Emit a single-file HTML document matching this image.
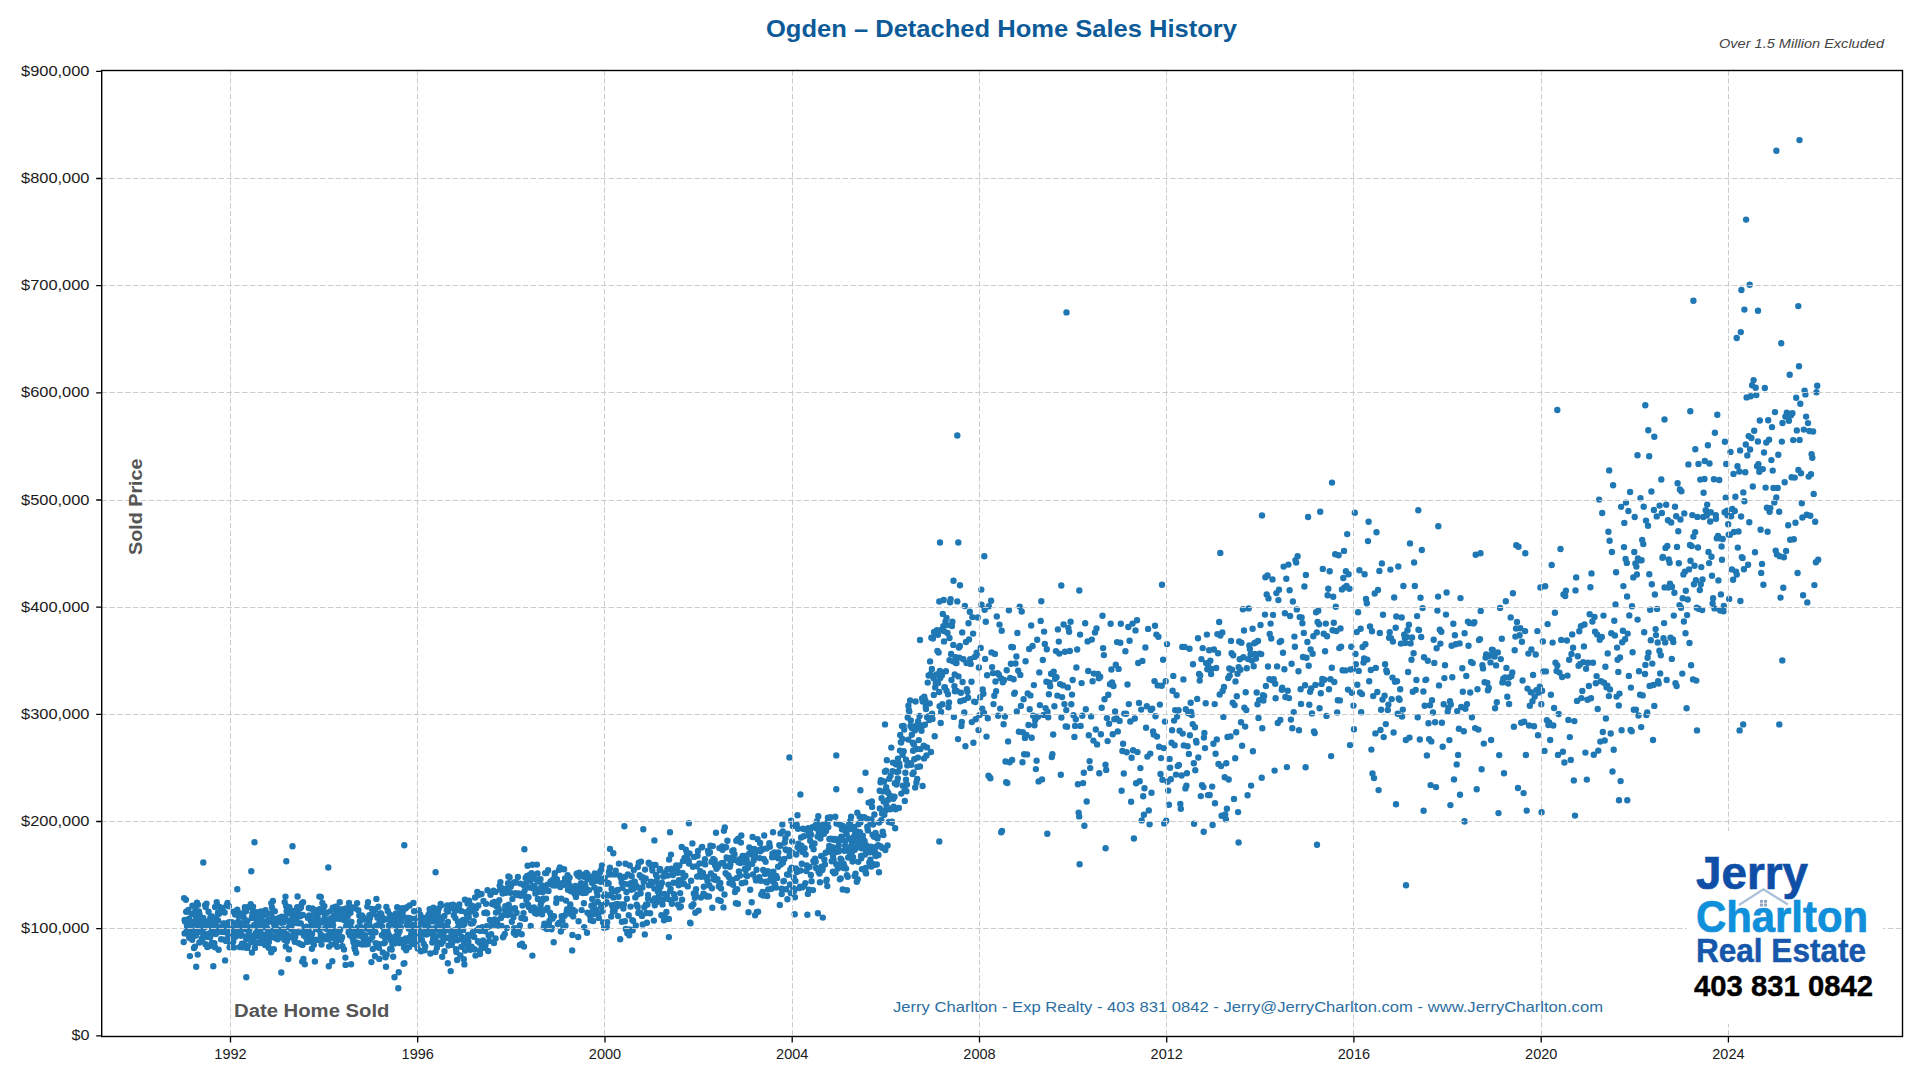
<!DOCTYPE html>
<html><head><meta charset="utf-8"><title>Ogden – Detached Home Sales History</title><style>
*{margin:0;padding:0}
html,body{width:1920px;height:1080px;background:#fff;overflow:hidden}
svg{display:block}
text{font-family:"Liberation Sans",sans-serif}
.tk{font-size:14.5px;fill:#1a1a1a}
.yt{font-size:14.5px;fill:#1a1a1a}
.title{font-size:24px;font-weight:bold;fill:#0c5b98}
.note{font-size:12.5px;font-style:italic;fill:#444}
.axl{font-size:18px;font-weight:bold;fill:#555}
.foot{font-size:15.2px;fill:#2d6fa3}
.lg1{font-size:45.5px;font-weight:bold;fill:#0f4ea6;stroke:#0f4ea6;stroke-width:0.7px}
.lg2{font-size:44px;font-weight:bold;fill:#108fda;stroke:#108fda;stroke-width:0.7px}
.lg3{font-size:33px;font-weight:bold;fill:#1656ab;stroke:#1656ab;stroke-width:0.5px}
.lg4{font-size:29px;font-weight:bold;fill:#000;stroke:#000;stroke-width:0.4px}
</style></head>
<body><svg width="1920" height="1080" viewBox="0 0 1920 1080">
<path d="M1348.0 689.6h0M1070.6 621.8h0M860.1 844.1h0M409.6 905.5h0M930.1 661.4h0M1435.1 722.3h0M1731.2 516.3h0M583.9 903.3h0M297.7 911.8h0M935.8 683.2h0M1624.0 547.1h0M1589.7 614.2h0M460.7 939.1h0M1194.1 823.7h0M909.3 711.4h0M536.9 864.6h0M316.2 921.8h0M792.8 826.1h0M1391.0 638.1h0M616.2 904.2h0M1012.9 647.3h0M430.4 953.5h0M853.9 840.0h0M820.9 828.3h0M489.3 941.0h0M1326.5 715.9h0M225.3 932.0h0M697.1 876.6h0M216.3 917.5h0M1187.6 746.3h0M381.9 935.3h0M277.1 931.8h0M1797.6 573.0h0M634.3 882.0h0M469.1 900.8h0M1702.2 610.1h0M716.4 868.8h0M1348.6 574.2h0M1183.4 679.4h0M1117.1 642.1h0M1135.5 630.4h0M1504.0 773.3h0M1376.5 532.3h0M818.8 833.5h0M250.9 906.0h0M1641.2 727.1h0M1357.3 684.8h0M601.5 869.3h0M865.0 854.6h0M870.4 859.7h0M271.2 952.3h0M1434.3 662.9h0M646.9 922.8h0M701.7 847.4h0M1586.8 779.6h0M1046.4 681.7h0M592.1 882.8h0M825.7 852.7h0M254.2 925.0h0M961.8 722.0h0M1569.2 659.7h0M260.3 932.0h0M561.9 883.3h0M496.9 925.7h0M1529.8 705.8h0M884.9 771.8h0M1736.7 338.0h0M661.0 884.5h0M346.1 926.2h0M1764.0 452.5h0M1661.9 513.0h0M1510.7 617.4h0M941.1 712.0h0M264.2 925.1h0M1781.2 343.2h0M1205.7 703.3h0M1283.6 566.6h0M827.5 822.5h0M444.5 951.3h0M1178.6 710.2h0M1186.4 785.7h0M1453.3 623.8h0M1591.0 698.3h0M359.3 915.5h0M449.9 938.0h0M1261.7 777.8h0M927.1 717.2h0M1396.3 616.5h0M1162.0 584.8h0M1705.7 510.2h0M215.1 907.0h0M1366.8 603.2h0M573.2 916.4h0M1259.2 700.1h0M286.9 941.2h0M740.0 875.6h0M1335.2 554.3h0M907.0 784.6h0M225.8 931.7h0M517.2 932.9h0M1531.4 649.5h0M906.0 759.7h0M1095.0 632.5h0M1389.7 632.3h0M1383.7 737.1h0M429.9 930.3h0M1137.5 752.1h0M1031.2 625.5h0M968.1 697.8h0M494.8 919.5h0M1163.8 748.1h0M1533.1 675.0h0M1722.0 559.7h0M1479.0 640.1h0M1213.9 649.5h0M1676.2 516.3h0M1126.7 752.2h0M878.2 845.2h0M924.9 724.7h0M439.4 919.5h0M1197.2 698.9h0M934.7 736.2h0M966.8 689.3h0M758.1 911.8h0M1339.3 648.1h0M315.5 940.0h0M1527.5 688.6h0M860.0 832.3h0M1610.0 689.4h0M414.1 911.3h0M531.2 910.3h0M845.4 841.0h0M198.0 904.8h0M552.3 880.2h0M690.1 922.7h0M1269.4 679.2h0M895.2 828.2h0M264.7 926.1h0M936.6 674.5h0M367.3 906.6h0M230.0 942.4h0M1275.2 683.7h0M545.1 873.1h0M349.7 909.7h0M1308.1 517.0h0M437.2 926.8h0M1053.7 671.8h0M242.4 926.8h0M204.1 936.8h0M580.0 890.2h0M1621.1 506.9h0M924.3 696.7h0M1538.0 735.2h0M940.2 678.1h0M276.4 937.0h0M1661.3 479.5h0M713.7 879.2h0M1543.5 671.4h0M581.6 910.1h0M560.8 931.5h0M1225.9 819.2h0M195.8 935.5h0M886.8 760.2h0M1607.7 653.4h0M878.5 854.9h0M404.0 947.4h0M466.9 914.6h0M950.1 602.2h0M1341.9 589.4h0M1472.7 663.1h0M1735.4 496.8h0M1104.5 699.2h0M206.9 923.9h0M1584.5 624.5h0M457.4 940.2h0M343.2 909.1h0M1141.2 709.6h0M517.6 895.1h0M523.5 913.1h0M896.8 771.9h0M727.4 840.7h0M858.3 861.7h0M668.9 918.9h0M249.3 929.4h0M1541.6 812.3h0M798.8 847.9h0M370.8 930.5h0M588.0 876.1h0M388.9 925.5h0M459.6 921.7h0M911.9 728.1h0M1645.4 664.9h0M1395.0 681.8h0M1804.6 390.7h0M713.3 859.0h0M949.0 702.5h0M1390.4 569.6h0M867.9 830.4h0M358.1 931.4h0M678.0 904.7h0M1246.3 710.1h0M495.6 938.5h0M932.1 713.8h0M1327.1 636.2h0M1307.4 642.0h0M1632.6 652.2h0M867.6 828.8h0M1038.6 781.4h0M939.3 841.5h0M1638.5 715.5h0M1419.0 630.0h0M1203.9 737.6h0M250.3 906.1h0M915.6 701.5h0M1627.7 633.6h0M1427.8 660.8h0M323.3 908.2h0M1068.4 627.9h0M1550.2 740.0h0M1456.7 764.4h0M301.8 903.6h0M1173.3 675.9h0M337.2 912.7h0M313.9 944.8h0M719.7 882.9h0M842.7 889.5h0M1110.0 684.2h0M326.3 913.2h0M1653.9 510.0h0M1254.7 654.0h0M881.6 798.2h0M1285.4 697.0h0M570.6 909.2h0M916.4 782.4h0M1494.6 656.5h0M689.5 853.5h0M939.6 706.2h0M926.0 709.1h0M186.2 911.8h0M1666.7 680.0h0M1690.3 411.3h0M622.5 887.8h0M826.3 881.0h0M598.7 876.8h0M643.3 829.3h0M722.1 846.4h0M1466.3 676.0h0M466.3 920.3h0M1813.7 493.9h0M561.6 916.3h0M886.0 770.8h0M846.9 875.1h0M224.6 912.5h0M608.1 895.6h0M730.8 858.6h0M508.1 883.2h0M519.9 944.9h0M1208.4 666.3h0M604.1 927.8h0M263.7 936.8h0M223.7 925.2h0M511.2 885.1h0M1496.1 665.4h0M227.4 930.1h0M555.2 885.6h0M421.9 940.1h0M1709.1 563.1h0M1693.4 536.6h0M1665.2 642.4h0M1625.6 558.9h0M254.5 842.2h0M1524.2 721.7h0M1085.2 623.2h0M851.7 840.8h0M668.9 937.1h0M1381.1 709.7h0M854.8 849.7h0M1000.8 678.3h0M824.0 833.8h0M846.1 868.6h0M1600.9 681.2h0M1111.4 669.5h0M504.2 890.6h0M506.2 908.7h0M1301.0 703.9h0M1796.2 397.7h0M410.7 918.4h0M418.4 917.0h0M794.9 897.3h0M1387.0 672.2h0M943.7 600.0h0M674.3 869.5h0M842.0 829.3h0M1421.2 637.0h0M633.1 920.7h0M958.0 739.1h0M720.7 900.9h0M1521.2 722.7h0M852.1 851.4h0M1732.3 508.9h0M1536.4 690.1h0M637.8 867.0h0M331.3 918.3h0M632.3 920.1h0M677.2 869.5h0M637.7 906.7h0M244.7 944.7h0M1063.6 624.5h0M1682.7 598.3h0M416.1 936.0h0M1337.8 700.3h0M753.0 874.5h0M685.8 849.6h0M419.6 939.6h0M987.1 675.3h0M884.3 814.8h0M462.7 924.7h0M1612.5 771.5h0M1191.8 715.0h0M1683.4 574.4h0M1249.9 649.0h0M1561.2 639.9h0M721.1 888.6h0M1219.7 694.5h0M362.3 935.1h0M1124.3 713.6h0M826.7 879.7h0M205.7 907.0h0M1099.3 773.3h0M501.9 888.2h0M1500.8 659.1h0M1108.3 694.7h0M780.5 833.4h0M345.6 964.9h0M1021.7 611.5h0M486.1 912.4h0M208.0 923.0h0M463.8 959.2h0M312.2 933.6h0M534.0 907.4h0M551.1 916.3h0M1758.0 310.8h0M1635.9 709.6h0M1690.0 544.9h0M862.1 848.4h0M738.9 871.5h0M314.8 940.0h0M1609.6 540.8h0M1646.4 715.0h0M1341.1 646.8h0M1095.8 729.5h0M1195.3 770.3h0M334.2 930.6h0M255.6 933.3h0M928.9 716.2h0M1679.5 605.1h0M1153.1 731.5h0M1709.5 463.5h0M1620.6 781.1h0M1176.6 695.3h0M993.0 673.1h0M433.4 907.8h0M488.7 935.5h0M1668.0 520.3h0M191.1 925.5h0M1222.3 632.4h0M1061.4 717.5h0M659.6 870.2h0M784.7 842.5h0M631.2 889.7h0M718.3 900.0h0M1355.9 664.2h0M717.8 867.0h0M735.4 890.8h0M728.9 877.1h0M232.3 931.6h0M638.8 862.7h0M347.8 926.7h0M863.6 817.2h0M330.5 919.0h0M721.5 863.2h0M1572.2 634.4h0M606.1 883.7h0M951.5 680.0h0M1676.6 686.0h0M1411.5 659.8h0M957.3 601.4h0M871.5 819.5h0M788.1 874.8h0M1030.4 695.4h0M1754.2 430.8h0M771.0 880.2h0M828.3 827.1h0M1687.7 599.5h0M847.0 890.3h0M398.6 917.3h0M691.5 905.9h0M197.0 902.8h0M284.2 935.3h0M309.9 941.2h0M604.7 878.1h0M1358.1 612.3h0M1683.9 621.5h0M1781.8 441.6h0M1616.1 572.3h0M847.7 876.8h0M1053.2 734.5h0M834.5 839.9h0M693.8 893.4h0M1394.2 597.5h0M349.9 935.2h0M1798.3 306.1h0M335.1 932.0h0M1064.4 704.1h0M1176.0 774.6h0M1626.8 562.9h0M344.0 949.4h0M1331.8 667.7h0M701.2 876.7h0M1066.5 312.4h0M859.0 847.4h0M1214.7 704.1h0M1301.6 617.5h0M928.6 675.5h0M433.1 938.7h0M1178.9 764.9h0M413.4 902.9h0M804.2 885.8h0M1703.3 517.0h0M496.5 906.2h0M1252.9 751.2h0M1375.4 733.4h0M410.4 924.1h0M535.4 893.4h0M646.1 904.4h0M897.8 778.5h0M639.7 875.3h0M731.8 857.5h0M1166.2 820.7h0M1314.0 731.4h0M947.1 625.1h0M413.9 931.8h0M240.7 923.3h0M807.9 893.9h0M793.2 888.1h0M725.6 873.1h0M425.2 946.5h0M808.7 835.4h0M303.4 958.9h0M603.1 922.5h0M609.9 867.7h0M187.7 927.4h0M376.2 925.8h0M355.5 944.8h0M431.9 912.0h0M1675.5 683.3h0M854.6 876.1h0M444.4 915.9h0M559.6 883.6h0M1037.2 639.8h0M298.7 943.1h0M505.9 892.7h0M978.9 667.5h0M467.6 903.5h0M265.7 944.7h0M1739.6 730.4h0M1238.6 842.5h0M733.1 884.8h0M1217.4 634.1h0M1322.3 679.0h0M436.1 928.0h0M448.8 930.2h0M1637.6 619.6h0M1726.9 510.7h0M1279.7 642.1h0M553.7 942.2h0M411.8 938.9h0M1134.8 718.5h0M837.1 839.9h0M1240.4 669.8h0M562.9 883.1h0M1498.5 813.1h0M273.8 949.2h0M1079.2 816.4h0M272.0 907.4h0M380.5 913.2h0M927.0 747.4h0M699.9 876.1h0M296.9 923.0h0M1172.6 690.7h0M849.5 852.2h0M1663.5 638.2h0M417.3 930.6h0M527.6 865.8h0M1573.8 780.4h0M1702.5 579.5h0M1775.7 550.6h0M288.4 920.9h0M1059.3 653.6h0M1567.5 675.6h0M1575.0 815.6h0M1758.4 464.2h0M1025.6 661.2h0M342.1 937.3h0M834.9 838.9h0M888.3 792.9h0M232.7 928.1h0M782.9 862.8h0M890.6 775.6h0M1378.0 589.9h0M1537.4 631.1h0M1196.5 742.6h0M203.3 862.5h0M1007.3 783.0h0M920.0 640.0h0M582.8 893.0h0M347.0 924.5h0M1782.5 423.0h0M792.2 841.5h0M349.0 902.9h0M965.4 746.3h0M726.9 874.6h0M316.4 910.1h0M1505.8 601.2h0M873.1 824.6h0M198.2 919.5h0M1047.5 711.7h0M883.4 835.1h0M452.5 941.8h0M943.8 631.1h0M290.8 920.1h0M822.8 917.6h0M252.0 952.5h0M237.9 922.0h0M1331.1 756.1h0M368.6 924.2h0M221.2 927.3h0M1211.5 669.0h0M605.7 903.7h0M1236.2 732.2h0M932.5 718.9h0M1506.4 667.9h0M1223.4 716.9h0M1093.9 673.6h0M1673.8 615.6h0M836.3 789.3h0M1358.7 670.9h0M188.7 930.6h0M1623.4 586.1h0M819.4 825.5h0M1811.6 454.3h0M900.8 742.1h0M281.8 916.7h0M1247.6 795.3h0M522.5 905.6h0M432.7 921.4h0M538.1 881.3h0M234.7 912.7h0M1818.2 559.8h0M1672.9 639.5h0M1225.2 814.5h0M317.3 921.3h0M471.0 923.5h0M1051.1 673.8h0M996.8 616.4h0M879.1 822.6h0M557.8 924.1h0M434.0 930.5h0M1444.4 678.1h0M1317.0 844.8h0M707.2 877.1h0M509.1 913.4h0M913.9 744.5h0M1668.7 559.5h0M769.3 843.2h0M1774.3 502.4h0M1368.6 521.7h0M1642.2 539.9h0M213.6 933.5h0M841.5 859.6h0M900.0 750.6h0M1034.5 725.2h0M974.2 701.6h0M1015.5 663.5h0M243.9 923.6h0M428.9 914.2h0M455.4 938.0h0M648.1 895.0h0M332.3 961.3h0M508.4 876.5h0M639.3 888.0h0M1131.1 801.7h0M1046.8 649.3h0M892.9 762.6h0M240.3 931.4h0M373.3 912.8h0M305.4 936.7h0M1100.9 734.3h0M812.5 827.2h0M1651.4 491.5h0M507.5 915.1h0M696.0 889.3h0M1487.3 683.0h0M1084.4 825.8h0M617.8 889.9h0M378.4 906.7h0M626.4 891.9h0M1806.8 514.8h0M435.5 952.0h0M236.1 914.6h0M1177.1 716.6h0M494.4 902.0h0M447.4 927.1h0M1481.6 769.2h0M381.3 914.0h0M211.6 916.1h0M770.8 875.8h0M558.2 884.1h0M290.5 936.5h0M797.5 815.3h0M1107.6 741.1h0M476.6 907.0h0M480.5 930.9h0M308.0 917.9h0M1145.4 647.5h0M1061.3 585.5h0M567.6 875.3h0M318.6 923.6h0M1539.8 686.7h0M1557.3 665.5h0M896.1 764.4h0M1083.1 783.1h0M573.4 888.8h0M260.2 943.1h0M707.5 880.9h0M640.6 893.4h0M1256.7 692.5h0M1640.5 498.3h0M1338.6 555.2h0M329.1 946.6h0M1750.1 449.5h0M203.2 917.9h0M1805.4 394.4h0M909.7 763.2h0M1300.6 689.2h0M492.1 904.1h0M1198.0 638.2h0M482.3 927.1h0M794.2 890.9h0M418.7 910.2h0M1239.7 659.3h0M479.5 942.7h0M1765.6 487.6h0M645.7 878.4h0M1513.9 726.7h0M1525.9 755.0h0M687.2 857.2h0M1377.3 692.0h0M309.6 932.3h0M285.5 896.6h0M387.5 930.8h0M577.4 888.4h0M775.1 884.4h0M1773.5 487.9h0M849.2 824.0h0M1136.1 783.3h0M514.1 928.3h0M606.8 927.1h0M1143.2 796.3h0M1557.3 410.0h0M585.0 883.8h0M1277.8 723.0h0M1497.8 652.4h0M461.4 946.7h0M1004.1 680.0h0M1454.0 779.4h0M1746.6 397.4h0M1792.4 413.2h0M1071.3 704.3h0M1639.7 560.4h0M384.1 932.0h0M1468.5 645.8h0M1473.4 623.4h0M235.4 928.7h0M1418.5 629.7h0M1627.1 596.5h0M1200.2 675.4h0M917.2 779.0h0M1347.2 534.1h0M559.9 867.5h0M431.7 916.5h0M292.5 937.7h0M933.8 694.9h0M613.4 897.4h0M1458.1 754.9h0M1356.7 632.1h0M666.4 912.0h0M477.1 930.1h0M305.7 933.3h0M891.9 821.8h0M473.7 921.3h0M1330.5 679.2h0M1248.7 608.4h0M1695.3 449.2h0M1807.3 602.4h0M1005.5 761.5h0M687.8 886.4h0M1008.1 741.4h0M310.9 921.1h0M561.3 898.6h0M869.8 852.3h0M874.4 814.4h0M500.2 889.5h0M1681.0 607.8h0M347.2 922.4h0M1133.1 750.2h0M545.5 886.3h0M764.8 873.9h0M1496.8 702.2h0M306.6 929.3h0M491.0 925.8h0M1476.7 789.3h0M1091.1 716.4h0M799.6 849.3h0M368.4 939.8h0M1234.0 798.9h0M247.3 921.1h0M260.8 940.6h0M1808.0 423.1h0M459.3 904.5h0M528.0 904.8h0M322.0 922.3h0M1704.5 479.0h0M1035.2 720.0h0M365.0 935.3h0M1022.5 762.2h0M579.5 876.8h0M1433.7 639.8h0M1501.8 638.7h0M1221.1 766.1h0M514.6 882.3h0M227.5 902.9h0M1611.9 552.0h0M578.2 937.0h0M723.9 830.7h0M578.6 921.2h0M1322.8 568.9h0M1547.6 624.1h0M939.2 692.0h0M1776.9 554.4h0M537.5 873.4h0M480.1 950.8h0M277.4 932.8h0M428.2 922.1h0M304.8 964.2h0M1150.3 753.6h0M526.0 883.4h0M261.1 911.5h0M268.9 942.1h0M1597.7 709.0h0M1066.3 710.1h0M1137.0 620.2h0M1379.8 632.9h0M509.6 877.3h0M1743.3 492.4h0M1402.1 716.5h0M908.9 710.2h0M1329.0 689.2h0M211.8 943.0h0M830.2 851.7h0M548.5 891.0h0M894.1 808.7h0M425.8 934.5h0M665.1 872.5h0M1273.7 679.3h0M1419.8 739.5h0M222.8 929.1h0M908.3 739.6h0M278.3 933.7h0M665.4 917.8h0M208.6 911.7h0M818.4 871.5h0M645.1 869.6h0M1366.0 598.9h0M1525.3 553.3h0M597.8 902.0h0M800.4 794.5h0M367.8 944.1h0M1294.4 636.6h0M1560.5 549.0h0M500.9 917.9h0M1077.9 784.3h0M608.6 883.5h0M589.0 890.1h0M268.1 922.1h0M590.6 920.3h0M426.7 934.4h0M897.9 758.6h0M790.3 869.8h0M615.5 891.1h0M402.6 917.3h0M463.2 929.9h0M292.5 846.3h0M307.2 934.1h0M975.3 702.0h0M326.7 922.3h0M985.1 658.9h0M353.8 933.1h0M462.2 924.1h0M394.6 922.7h0M1465.4 708.8h0M977.1 655.0h0M492.6 904.3h0M1777.7 487.9h0M1778.3 454.8h0M1400.9 643.6h0M732.6 879.7h0M1696.3 680.6h0M582.2 884.6h0M235.1 914.5h0M1304.4 586.5h0M1406.0 885.2h0M1664.6 587.4h0M1272.5 579.4h0M317.1 915.5h0M964.0 700.1h0M1056.5 677.2h0M348.3 914.3h0M206.5 903.6h0M726.1 847.3h0M453.1 904.8h0M391.8 924.2h0M298.6 932.2h0M256.4 936.1h0M1785.4 416.6h0M1329.7 571.3h0M228.9 906.3h0M772.4 853.7h0M1637.5 455.3h0M276.0 923.1h0M931.9 668.9h0M1801.8 503.3h0M1643.7 506.7h0M427.4 921.6h0M234.3 928.7h0M1353.5 705.6h0M1716.8 538.3h0M902.4 739.0h0M741.3 835.5h0M184.1 898.1h0M1126.1 713.8h0M357.3 942.6h0M766.5 848.5h0M1812.3 457.8h0M319.1 929.9h0M1170.1 767.7h0M392.5 916.3h0M683.6 877.8h0M446.7 910.1h0M1618.3 671.9h0M1756.3 395.1h0M1235.5 681.4h0M525.6 877.9h0M712.3 907.8h0M785.4 838.2h0M590.2 916.0h0M730.4 864.3h0M275.9 927.7h0M1762.0 563.9h0M1242.1 745.8h0M811.1 834.7h0M1175.2 710.1h0M246.7 936.4h0M221.4 927.8h0M528.5 897.2h0M1121.6 790.8h0M541.7 885.3h0M460.4 955.4h0M644.3 907.2h0M1382.5 699.6h0M1451.6 645.8h0M838.7 845.3h0M368.0 902.3h0M1796.8 430.4h0M1103.9 655.1h0M718.8 886.4h0M1291.6 663.8h0M662.8 900.0h0M323.7 936.1h0M201.7 938.8h0M569.3 908.3h0M1260.5 625.0h0M866.5 852.0h0M1630.9 687.6h0M1706.7 515.5h0M950.6 599.3h0M433.7 916.5h0M519.8 925.4h0M585.5 886.4h0M917.9 757.6h0M688.7 861.0h0M185.1 921.4h0M344.5 920.2h0M1526.7 810.6h0M904.2 729.6h0M570.3 904.4h0M1008.9 610.3h0M544.7 910.1h0M576.0 896.9h0M193.3 921.6h0M435.6 872.2h0M551.9 928.0h0M1710.8 512.3h0M813.0 890.1h0M801.5 845.6h0M490.5 894.7h0M1436.6 648.2h0M1448.4 707.9h0M229.2 922.1h0M518.2 929.7h0M1693.9 584.3h0M767.7 871.1h0M868.1 849.1h0M1463.8 731.2h0M188.4 909.9h0M710.4 845.8h0M941.6 629.6h0M959.4 657.6h0M1161.0 758.1h0M855.8 841.7h0M1155.0 625.8h0M1728.7 534.6h0M651.4 884.7h0M969.8 611.7h0M476.0 908.5h0M920.0 766.5h0M276.7 919.9h0M893.7 806.6h0M1499.2 755.1h0M889.5 808.7h0M744.9 868.9h0M259.4 942.1h0M1480.7 610.9h0M328.3 867.5h0M872.1 806.9h0M1679.9 489.5h0M256.7 933.6h0M1693.4 300.7h0M1334.3 682.0h0M1118.6 668.9h0M600.8 881.7h0M752.6 837.0h0M905.4 772.7h0M358.6 931.6h0M627.9 874.4h0M855.9 833.3h0M211.1 932.3h0M1699.8 590.0h0M1511.4 676.0h0M270.3 921.3h0M750.2 889.8h0M751.7 902.3h0M981.5 604.8h0M795.9 868.4h0M1263.4 700.6h0M336.5 935.0h0M409.2 947.1h0M682.1 899.8h0M1029.7 709.2h0M354.9 942.1h0M212.6 921.8h0M1010.9 663.8h0M1515.4 636.6h0M865.6 867.9h0M543.8 927.2h0M650.5 884.5h0M1082.3 715.8h0M904.7 789.2h0M1256.0 658.6h0M425.4 929.8h0M868.6 802.6h0M813.4 861.0h0M240.1 915.7h0M839.9 879.2h0M769.9 846.7h0M840.7 878.5h0M1630.1 492.0h0M634.8 881.7h0M1342.6 670.2h0M1516.3 545.3h0M269.5 937.4h0M543.3 898.8h0M737.2 889.2h0M456.7 910.3h0M1737.8 547.6h0M243.6 917.2h0M801.8 863.7h0M236.7 924.8h0M1080.6 725.9h0M882.9 791.6h0M1728.2 524.2h0M921.5 730.7h0M1293.7 712.1h0M945.9 671.3h0M1667.3 545.9h0M252.7 909.2h0M1218.1 653.2h0M226.0 940.9h0M284.7 902.1h0M886.2 787.1h0M1729.9 534.7h0M378.4 943.9h0M263.3 923.3h0M555.8 879.3h0M739.4 859.4h0M877.0 836.1h0M1673.3 642.1h0M588.4 879.1h0M738.1 838.6h0M382.1 926.5h0M843.7 868.0h0M1216.8 739.4h0M1588.2 662.7h0M1180.8 808.7h0M237.3 889.2h0M560.3 887.1h0M524.5 891.1h0M1808.7 476.6h0M443.5 938.0h0M575.3 886.0h0M936.9 630.3h0M603.4 904.9h0M1529.1 725.5h0M853.1 857.3h0M400.6 918.1h0M1744.4 501.3h0M880.4 846.3h0M324.4 906.1h0M1120.3 642.8h0M995.5 681.5h0M1011.3 646.9h0M1622.2 642.2h0M883.6 801.5h0M1507.3 696.8h0M1050.2 686.3h0M763.8 859.0h0M848.8 826.7h0M670.2 890.7h0M542.6 900.3h0M1149.6 824.3h0M447.1 905.5h0M875.5 833.0h0M472.1 905.8h0M1380.5 730.0h0M221.1 939.2h0M369.2 923.0h0M1363.5 662.6h0M962.2 632.4h0M803.9 836.3h0M1237.5 673.8h0M1051.8 757.0h0M1748.7 436.1h0M1044.8 643.9h0M1464.6 821.6h0M275.1 926.0h0M343.5 913.0h0M1603.5 615.6h0M829.4 839.0h0M968.5 623.3h0M933.6 678.3h0M1606.5 687.3h0M1152.3 708.6h0M881.3 820.3h0M1471.9 717.2h0M842.3 839.8h0M982.2 708.7h0M700.9 897.5h0M1125.4 651.3h0M535.8 892.5h0M1312.0 713.4h0M402.8 911.7h0M241.0 935.8h0M1199.7 680.6h0M836.3 864.3h0M202.6 933.3h0M196.2 966.7h0M1097.1 744.4h0M827.9 817.8h0M951.1 653.9h0M614.6 911.0h0M261.4 935.7h0M1317.6 621.9h0M348.6 932.5h0M279.1 917.7h0M1744.4 309.6h0M1726.2 464.0h0M650.1 913.3h0M982.7 689.5h0M249.6 934.7h0M254.1 937.7h0M554.0 916.3h0M457.9 921.8h0M831.7 861.3h0M1402.8 709.6h0M913.6 772.4h0M1538.8 692.5h0M591.4 905.8h0M286.8 934.3h0M197.2 932.8h0M261.9 934.3h0M1373.2 696.1h0M390.5 922.1h0M380.6 916.4h0M625.2 876.8h0M1221.6 815.8h0M1036.6 760.7h0M1344.0 550.9h0M220.7 911.6h0M446.0 926.4h0M291.5 925.9h0M340.2 929.5h0M1075.1 725.9h0M187.6 911.6h0M806.4 871.1h0M864.5 846.6h0M983.4 693.8h0M1159.1 746.7h0M527.1 876.0h0M743.2 858.7h0M1675.0 506.8h0M980.7 647.9h0M830.5 817.2h0M445.2 927.9h0M329.8 929.8h0M1439.0 685.4h0M716.0 832.8h0M199.9 919.9h0M681.1 880.2h0M184.6 933.4h0M689.0 863.5h0M187.0 925.9h0M960.0 585.2h0M788.6 874.5h0M483.1 940.4h0M791.1 820.7h0M542.1 914.3h0M1399.6 699.7h0M1424.0 657.3h0M470.2 949.7h0M1062.1 697.1h0M299.5 914.9h0M1049.6 682.7h0M1811.0 474.3h0M1731.9 569.4h0M515.0 908.2h0M1422.6 608.1h0M503.6 936.1h0M1001.2 832.3h0M996.1 691.2h0M708.0 850.7h0M1791.6 477.2h0M492.7 902.6h0M290.1 913.2h0M760.8 880.7h0M819.5 873.5h0M1782.3 660.4h0M287.4 913.5h0M1602.2 513.0h0M529.8 875.0h0M310.2 935.9h0M280.7 934.4h0M265.5 910.2h0M724.5 894.5h0M731.2 881.8h0M377.8 916.6h0M1595.8 683.3h0M1809.4 431.0h0M1087.6 641.4h0M1618.8 705.5h0M777.1 877.9h0M205.1 905.3h0M342.8 919.6h0M1652.3 663.6h0M274.8 911.3h0M802.2 887.4h0M201.1 920.2h0M867.3 826.6h0M230.9 935.7h0M1355.5 654.0h0M839.4 864.6h0M1063.0 685.4h0M275.3 937.9h0M201.0 924.0h0M311.9 948.8h0M1252.6 628.8h0M1574.4 721.1h0M783.9 880.9h0M609.0 871.7h0M914.8 730.4h0M879.0 872.3h0M625.5 863.7h0M1581.4 698.1h0M237.0 929.4h0M241.5 945.4h0M350.6 927.2h0M825.0 864.5h0M1554.9 612.8h0M869.7 865.2h0M763.2 870.0h0M1029.2 649.0h0M693.4 904.3h0M1074.4 736.9h0M900.2 734.9h0M474.2 936.9h0M437.5 942.3h0M1775.0 412.1h0M415.5 918.6h0M1103.1 648.1h0M1617.1 647.6h0M593.7 905.2h0M833.6 859.7h0M407.7 919.8h0M1264.1 695.9h0M742.2 861.8h0M1080.1 634.6h0M1613.1 485.3h0M189.9 956.1h0M1235.2 758.2h0M484.8 947.7h0M1351.9 692.8h0M1286.9 767.1h0M1565.9 590.7h0M1803.1 595.3h0M255.5 943.2h0M779.8 905.0h0M685.4 875.8h0M1207.3 669.3h0M932.9 638.5h0M384.0 943.2h0M365.1 944.0h0M233.9 947.4h0M705.2 864.4h0M1333.8 622.8h0M505.1 909.8h0M920.5 749.1h0M242.6 929.5h0M564.1 869.3h0M642.7 924.4h0M862.4 845.2h0M486.8 926.1h0M1275.6 698.3h0M438.8 908.4h0M1688.4 464.4h0M1471.0 662.0h0M235.5 936.8h0M1024.9 737.9h0M1209.7 795.0h0M510.7 886.8h0M994.9 653.9h0M557.4 883.4h0M1503.3 678.7h0M879.7 790.8h0M282.9 933.8h0M1140.4 768.1h0M732.3 850.9h0M529.2 887.6h0M338.3 908.8h0M308.8 908.0h0M328.5 935.4h0M809.5 866.9h0M958.5 676.4h0M856.6 834.9h0M1420.5 597.7h0M1699.0 608.9h0M191.7 930.2h0M850.4 820.7h0M1632.0 606.3h0M669.6 899.6h0M257.0 927.6h0M1712.6 603.4h0M532.4 955.6h0M694.2 856.9h0M860.4 790.3h0M792.2 852.7h0M478.6 895.1h0M1595.1 631.7h0M749.3 847.4h0M1647.6 657.8h0M296.3 910.3h0M1454.9 635.2h0M1014.9 692.6h0M1467.9 621.6h0M677.7 872.7h0M469.4 909.6h0M458.5 932.7h0M212.2 928.4h0M606.6 902.3h0M329.4 936.2h0M1077.2 649.5h0M1305.9 575.0h0M550.0 912.6h0M836.5 823.6h0M1585.4 752.6h0M355.0 949.5h0M1757.1 466.3h0M1743.9 569.3h0M429.0 927.6h0M254.9 947.9h0M335.2 943.8h0M1305.1 685.2h0M1189.9 735.2h0M621.9 921.7h0M1296.8 609.4h0M347.6 916.5h0M496.0 912.6h0M1668.4 587.5h0M320.4 921.5h0M1174.1 720.6h0M940.0 542.5h0M251.8 917.7h0M1410.6 643.4h0M400.7 927.2h0M643.7 881.7h0M1660.8 655.3h0M700.3 871.1h0M441.4 943.8h0M1460.5 598.1h0M636.2 885.8h0M817.6 836.6h0M417.7 948.6h0M630.5 906.6h0M1564.4 762.5h0M1617.6 659.8h0M1244.0 630.5h0M415.2 924.8h0M1211.1 674.1h0M212.9 922.7h0M759.2 877.3h0M292.9 916.7h0M715.1 865.3h0M1423.6 810.7h0M449.2 905.6h0M399.5 931.2h0M1344.6 587.4h0M300.0 908.6h0M1713.9 479.2h0M1151.5 792.8h0M1206.9 634.6h0M796.7 824.7h0M1265.0 614.6h0M399.8 942.1h0M1294.9 646.7h0M1659.4 650.7h0M623.4 908.6h0M1588.9 686.0h0M749.0 854.0h0M455.4 918.1h0M988.5 775.8h0M406.2 950.3h0M1057.9 629.4h0M891.7 822.7h0M678.8 880.1h0M1241.0 722.3h0M436.6 919.3h0M866.2 845.3h0M231.5 938.8h0M1165.7 681.3h0M1684.3 513.4h0M1522.6 680.5h0M278.8 932.3h0M487.8 927.0h0M643.2 877.5h0M807.4 914.8h0M548.9 924.0h0M1226.9 808.8h0M1556.6 670.9h0M346.1 916.2h0M1241.4 642.7h0M1636.9 574.5h0M517.9 877.0h0M859.3 838.0h0M291.2 928.9h0M487.1 913.3h0M778.3 852.4h0M779.3 845.1h0M1269.7 634.0h0M1590.4 587.2h0M931.0 752.0h0M249.0 927.2h0M1794.7 477.6h0M655.5 865.0h0M1470.2 692.5h0M1628.4 511.0h0M1640.1 694.7h0M220.3 929.9h0M1474.4 622.3h0M1698.5 463.9h0M1072.7 680.0h0M1814.4 585.1h0M1670.5 637.8h0M787.7 833.7h0M332.8 907.7h0M1664.5 419.5h0M371.9 909.0h0M1032.6 646.0h0M915.2 787.5h0M680.2 893.1h0M254.7 935.7h0M671.5 868.6h0M239.1 916.7h0M814.5 843.5h0M690.5 923.2h0M1770.3 508.1h0M284.4 939.8h0M715.6 880.0h0M1424.7 705.8h0M1788.2 525.3h0M298.3 908.9h0M341.8 911.7h0M282.0 917.5h0M372.8 949.0h0M423.9 950.4h0M1127.5 684.5h0M1445.0 665.3h0M441.0 905.4h0M1362.6 647.0h0M420.3 914.8h0M198.6 931.0h0M1020.9 705.9h0M396.5 938.4h0M1724.6 512.2h0M649.5 863.9h0M885.0 724.4h0M1370.0 626.5h0M531.9 887.3h0M1058.8 641.6h0M192.4 905.6h0M1440.4 643.6h0M372.3 937.1h0M341.5 938.6h0M1701.3 567.1h0M944.4 687.2h0M658.7 896.4h0M223.9 939.6h0M563.9 884.8h0M217.5 927.0h0M1421.8 550.0h0M1215.0 803.3h0M1412.1 637.5h0M196.5 924.9h0M1171.6 742.8h0M1662.9 556.9h0M1628.9 675.9h0M539.5 889.3h0M1018.2 670.8h0M439.7 929.1h0M1749.7 284.7h0M422.5 923.5h0M186.4 931.8h0M697.6 855.7h0M598.9 917.9h0M1426.9 755.5h0M472.8 932.2h0M777.6 856.4h0M698.0 851.0h0M408.9 928.7h0M1085.8 709.3h0M1161.7 685.7h0M747.2 876.0h0M1016.8 711.5h0M364.2 919.0h0M848.5 838.3h0M1367.3 659.6h0M1815.2 521.7h0M871.0 846.6h0M1645.3 405.3h0M1509.7 677.3h0M201.6 931.0h0M776.0 887.6h0M352.1 929.2h0M884.1 781.4h0M956.5 663.1h0M1779.3 724.4h0M871.9 801.4h0M1627.3 800.3h0M1027.7 693.4h0M997.6 673.2h0M926.5 755.5h0M307.7 934.9h0M523.0 895.6h0M581.3 884.6h0M766.9 882.5h0M954.7 674.5h0M1695.2 532.1h0M910.8 720.4h0M1078.6 812.6h0M222.6 908.2h0M540.6 905.4h0M302.2 961.6h0M536.6 913.8h0M1138.2 663.0h0M699.0 875.7h0M1048.9 694.3h0M300.8 923.4h0M1027.1 754.4h0M405.4 908.6h0M641.5 877.5h0M1583.2 662.1h0M918.1 721.1h0M688.1 854.3h0M325.6 938.2h0M1416.4 680.0h0M552.6 918.6h0M1088.2 671.0h0M205.5 944.2h0M1586.1 668.7h0M851.1 816.8h0M450.2 939.1h0M642.4 887.5h0M667.8 875.6h0M1389.1 637.7h0M1181.6 775.5h0M352.0 907.3h0M1678.8 563.2h0M1144.5 788.2h0M391.7 949.5h0M778.1 866.7h0M469.8 911.9h0M688.9 823.3h0M196.2 917.6h0M1228.2 678.0h0M875.8 853.9h0M1164.2 823.4h0M872.6 834.7h0M844.5 866.5h0M562.4 920.4h0M1551.7 565.0h0M1739.4 471.5h0M189.3 937.7h0M633.8 870.1h0M1385.1 664.2h0M277.6 939.3h0M1289.6 590.3h0M1788.9 420.8h0M198.9 911.4h0M1740.4 601.0h0M432.3 942.5h0M465.6 940.3h0M279.7 937.6h0M357.7 927.2h0M596.8 891.8h0M1441.3 631.8h0M1251.8 660.6h0M1462.8 691.8h0M902.0 726.1h0M880.5 782.2h0M438.3 923.3h0M1274.6 770.6h0M1028.5 725.0h0M1259.6 653.6h0M199.4 913.8h0M679.6 907.4h0M917.0 749.0h0M293.7 932.6h0M293.9 918.3h0M252.3 913.8h0M958.9 647.6h0M1600.3 741.6h0M1509.1 704.0h0M1596.6 676.1h0M1447.7 711.6h0M885.5 810.4h0M889.3 778.8h0M246.3 939.0h0M862.8 835.6h0M183.7 942.0h0M686.3 860.8h0M1429.1 739.1h0M463.1 920.0h0M709.0 896.5h0M1157.0 736.6h0M1354.0 729.2h0M903.6 726.0h0M269.7 935.2h0M357.1 903.1h0M823.3 826.3h0M1281.1 641.0h0M301.5 932.5h0M847.6 847.9h0M620.2 939.3h0M1052.4 754.3h0M816.1 868.0h0M1246.8 668.3h0M358.4 910.2h0M756.5 869.7h0M1249.3 645.5h0M447.8 963.3h0M1492.8 649.9h0M592.6 911.3h0M406.9 924.9h0M1139.0 702.9h0M202.4 939.2h0M495.4 891.9h0M451.8 944.8h0M1324.3 679.8h0M1799.0 366.3h0M1734.8 511.0h0M1587.5 699.7h0M1354.8 512.8h0M882.1 813.6h0M955.9 663.1h0M1654.3 436.7h0M1748.1 564.8h0M833.7 839.7h0M722.5 849.8h0M400.1 939.5h0M512.8 883.1h0M1000.2 708.6h0M1653.4 685.0h0M1018.8 731.7h0M619.7 875.7h0M1392.9 641.5h0M691.8 906.4h0M1266.7 594.5h0M271.8 931.0h0M541.2 902.4h0M330.9 937.5h0M1186.9 773.2h0M1514.7 650.3h0M616.9 906.4h0M1752.8 486.5h0M911.3 764.8h0M1550.9 694.7h0M384.8 942.6h0M1725.7 497.8h0M423.0 924.5h0M421.5 921.3h0M922.7 701.6h0M243.3 916.7h0M431.2 933.1h0M237.6 912.5h0M775.4 857.1h0M953.3 644.9h0M667.4 869.3h0M267.3 928.2h0M1014.2 693.7h0M239.3 929.4h0M1079.3 590.5h0M417.0 928.2h0M213.9 920.4h0M1626.0 502.6h0M1199.1 674.0h0M774.1 875.0h0M1604.7 740.5h0M190.5 930.0h0M1105.5 764.7h0M554.8 873.3h0M366.4 939.0h0M752.1 863.9h0M1316.1 612.3h0M1205.0 748.1h0M1239.2 641.5h0M1228.7 779.5h0M776.2 876.0h0M1182.3 646.9h0M798.0 828.8h0M428.3 915.4h0M1480.0 639.1h0M1155.5 716.2h0M1242.9 609.2h0M1530.8 692.2h0M520.4 883.6h0M475.5 955.6h0M1319.6 708.2h0M826.1 831.1h0M502.6 893.5h0M1677.6 483.2h0M666.9 895.0h0M305.3 931.8h0M370.7 932.5h0M1711.5 556.7h0M833.0 855.7h0M760.1 842.9h0M984.3 556.3h0M857.7 879.2h0M1707.9 445.3h0M887.6 845.5h0M353.5 942.2h0M1162.4 779.7h0M493.6 890.6h0M1483.0 668.4h0M522.0 943.8h0M1185.4 788.4h0M994.3 695.8h0M270.1 932.8h0M426.4 926.2h0M1146.1 727.7h0M449.5 908.1h0M1689.5 643.0h0M702.5 875.8h0M611.6 889.0h0M253.1 906.6h0M1614.9 635.5h0M1475.7 554.8h0M484.4 912.9h0M1520.3 628.2h0M1227.5 737.0h0M626.9 898.7h0M1401.7 617.4h0M835.5 872.7h0M1450.4 805.1h0M503.7 915.1h0M1167.0 644.1h0M935.1 633.2h0M1048.2 717.3h0M470.5 935.5h0M684.0 884.0h0M1616.6 696.6h0M1069.1 631.7h0M303.1 902.2h0M341.0 915.3h0M248.5 935.3h0M757.2 879.8h0M1398.7 698.5h0M1339.9 700.4h0M1065.0 651.7h0M1202.0 785.3h0M919.6 715.9h0M803.0 828.8h0M893.3 798.8h0M684.9 859.4h0M546.8 929.0h0M1273.0 614.9h0M1755.0 552.2h0M510.3 892.8h0M614.2 874.4h0M790.7 893.1h0M360.8 927.2h0M407.6 923.2h0M1179.6 730.7h0M1139.7 781.2h0M1288.4 564.6h0M871.3 866.6h0M511.9 908.8h0M1793.8 539.3h0M1678.3 531.3h0M1692.3 515.1h0M1734.0 532.0h0M323.1 908.4h0M510.1 913.2h0M653.9 920.6h0M923.7 745.8h0M1042.8 660.0h0M1296.2 562.6h0M1690.5 560.7h0M784.4 859.0h0M729.8 866.7h0M745.7 870.1h0M333.7 920.0h0M1541.3 704.3h0M1764.8 388.0h0M772.1 857.2h0M903.7 751.2h0M621.7 882.5h0M521.4 918.0h0M1123.1 743.8h0M1545.2 586.2h0M746.2 875.2h0M1262.3 728.2h0M725.4 866.3h0M419.7 924.4h0M1290.9 719.6h0M251.4 942.2h0M404.4 963.3h0M835.3 816.7h0M189.1 918.7h0M756.0 880.4h0M734.1 859.7h0M242.0 943.6h0M1766.9 507.8h0M1502.4 682.4h0M1671.8 658.9h0M1022.8 732.3h0M516.2 882.6h0M1244.4 707.8h0M959.9 645.9h0M1110.6 623.7h0M325.2 928.2h0M572.9 909.7h0M283.8 931.5h0M362.2 944.6h0M1568.4 719.9h0M258.7 926.8h0M207.4 946.5h0M483.9 946.4h0M765.1 872.3h0M948.5 707.2h0M390.8 919.5h0M1768.2 420.2h0M1491.9 649.8h0M1297.6 556.3h0M1512.3 672.4h0M942.4 704.3h0M1220.3 552.9h0M1002.0 830.9h0M897.2 781.6h0M1383.0 614.8h0M1002.8 682.2h0M322.4 903.0h0M865.5 872.0h0M1614.3 620.7h0M314.1 910.9h0M1549.2 722.4h0M831.2 838.7h0M815.1 858.7h0M1575.5 590.4h0M416.7 945.3h0M279.5 929.7h0M265.1 945.1h0M1332.0 482.6h0M423.2 933.0h0M1350.6 669.5h0M1579.3 631.3h0M1043.6 714.9h0M1598.3 750.6h0M898.9 808.0h0M1041.3 601.3h0M838.3 846.7h0M194.7 914.7h0M1815.9 562.2h0M1660.2 673.4h0M369.9 918.3h0M683.0 861.1h0M363.9 939.0h0M422.4 918.4h0M589.7 876.5h0M1388.4 704.6h0M493.3 923.8h0M309.2 915.5h0M1491.1 740.0h0M1630.6 730.0h0M1345.9 571.3h0M1806.1 416.6h0M1284.9 613.3h0M644.8 934.4h0M624.4 826.2h0M594.2 914.0h0M1090.2 768.1h0M1625.1 639.2h0M955.5 657.3h0M436.9 947.7h0M185.4 933.0h0M1486.2 654.4h0M876.8 864.5h0M1405.3 642.9h0M1634.3 552.0h0M320.7 934.3h0M711.5 861.7h0M1648.5 652.8h0M1267.5 575.4h0M1142.4 660.9h0M1521.9 641.8h0M781.5 888.6h0M1371.4 749.6h0M656.9 901.9h0M1518.0 788.0h0M1305.6 767.2h0M1534.0 726.3h0M1067.8 687.4h0M531.5 873.2h0M551.5 929.2h0M654.4 840.4h0M288.9 927.2h0M207.3 947.1h0M488.2 951.0h0M1229.3 668.5h0M1189.5 648.7h0M873.8 836.4h0M787.1 874.5h0M239.7 947.1h0M681.7 846.9h0M1687.1 615.1h0M863.8 841.3h0M661.9 882.8h0M652.7 900.4h0M793.8 877.7h0M570.9 891.2h0M1577.0 700.9h0M445.0 927.1h0M1365.4 644.2h0M1657.1 608.9h0M805.6 854.4h0M671.0 854.6h0M618.5 896.7h0M1100.2 676.7h0M1442.7 746.8h0M985.8 621.8h0M1374.7 593.5h0M761.3 894.5h0M292.1 936.4h0M1552.6 642.6h0M1558.7 714.0h0M764.2 835.5h0M486.0 903.7h0M328.3 939.2h0M780.8 864.6h0M547.4 884.8h0M850.9 829.1h0M960.3 701.3h0M744.1 860.3h0M498.8 910.0h0M1298.5 671.3h0M867.0 818.6h0M1723.5 611.3h0M213.3 966.3h0M1343.3 578.0h0M824.4 859.5h0M954.9 691.3h0M1605.9 718.5h0M285.8 946.4h0M1318.3 610.7h0M1653.0 740.0h0M1283.0 652.7h0M1438.3 526.3h0M711.9 888.3h0M960.9 692.7h0M1410.0 543.4h0M281.3 972.5h0M1268.5 598.4h0M1784.7 482.2h0M1044.1 631.6h0M789.4 757.4h0M660.5 886.8h0M1109.1 723.8h0M424.6 950.3h0M648.0 898.6h0M1624.3 522.9h0M782.8 831.4h0M1649.3 574.2h0M381.1 917.1h0M363.5 938.4h0M1116.5 718.4h0M1023.6 699.2h0M1450.0 701.2h0M572.2 950.4h0M197.7 954.6h0M636.7 904.7h0M1620.0 657.4h0M680.8 906.5h0M717.0 864.7h0M291.6 910.8h0M902.9 785.8h0M520.8 895.8h0M219.7 907.0h0M1026.5 735.0h0M1303.8 632.9h0M461.2 910.9h0M647.4 904.6h0M465.1 950.5h0M1313.3 636.3h0M466.0 912.2h0M337.2 946.8h0M454.2 936.7h0M464.4 964.4h0M635.8 925.4h0M513.4 917.3h0M327.7 923.7h0M922.6 786.0h0M472.7 923.3h0M396.3 921.5h0M987.8 718.3h0M1651.8 584.3h0M188.3 930.0h0M1741.4 290.0h0M698.6 910.6h0M354.4 947.3h0M350.5 912.7h0M286.3 861.3h0M901.1 742.6h0M247.8 930.2h0M1714.5 608.4h0M928.1 703.5h0M1093.4 740.6h0M362.0 915.4h0M628.4 884.3h0M629.8 865.5h0M755.1 915.3h0M524.0 885.6h0M1718.4 580.4h0M1487.9 690.2h0M332.7 932.1h0M666.0 898.5h0M485.1 931.3h0M1644.2 632.3h0M304.5 928.3h0M704.2 863.3h0M480.0 954.1h0M533.3 888.6h0M907.7 717.5h0M830.9 839.3h0M1405.9 740.0h0M1192.7 724.1h0M574.9 911.2h0M1284.4 669.2h0M1006.7 670.3h0M1160.5 773.9h0M1231.0 640.9h0M1607.4 685.7h0M577.1 893.3h0M550.4 881.7h0M937.9 634.8h0M872.8 864.0h0M861.0 856.0h0M271.3 903.1h0M215.6 925.9h0M289.1 949.4h0M1450.8 704.5h0M1793.2 440.1h0M1345.4 670.4h0M595.2 909.3h0M385.3 919.2h0M1540.4 587.5h0M1767.6 531.8h0M851.3 845.7h0M479.0 928.3h0M843.6 863.6h0M497.2 921.9h0M1392.5 677.6h0M1375.8 667.9h0M365.9 940.1h0M467.3 944.8h0M1101.7 707.7h0M565.1 878.4h0M468.4 941.4h0M266.4 914.6h0M1349.4 588.7h0M925.3 700.2h0M864.0 817.1h0M755.6 878.6h0M1060.8 774.8h0M1685.5 633.2h0M1069.8 651.0h0M952.4 621.7h0M481.5 894.0h0M341.0 940.0h0M344.8 909.3h0M352.7 938.5h0M703.8 886.7h0M233.6 911.8h0M623.9 904.5h0M1320.2 511.8h0M1350.0 745.1h0M991.1 600.8h0M845.1 830.5h0M1464.5 821.3h0M477.9 941.3h0M923.1 725.3h0M966.5 663.0h0M369.4 915.2h0M195.3 932.2h0M231.9 922.1h0M454.8 909.7h0M1658.7 683.5h0M809.9 830.8h0M359.8 921.5h0M457.2 960.0h0M759.6 858.1h0M1312.6 653.8h0M232.9 939.9h0M1489.5 655.8h0M477.3 892.0h0M217.3 932.3h0M1672.0 586.7h0M839.1 850.2h0M222.2 909.7h0M1055.1 678.7h0M1752.1 385.2h0M621.2 878.5h0M191.5 913.6h0M880.9 780.2h0M423.7 943.7h0M383.4 918.3h0M359.1 931.0h0M511.8 921.8h0M420.4 937.4h0M699.5 863.5h0M736.3 840.7h0M618.1 916.1h0M834.2 873.3h0M882.1 847.8h0M1582.3 690.9h0M587.5 912.8h0M1414.8 586.0h0M315.4 914.3h0M940.7 723.0h0M1311.2 688.5h0M1609.2 470.4h0M615.2 905.7h0M648.7 862.8h0M1686.6 708.3h0M226.2 923.4h0M214.4 921.5h0M190.8 934.5h0M1555.5 662.8h0M657.2 877.3h0M815.6 825.1h0M211.1 932.2h0M450.7 971.1h0M930.5 674.2h0M379.6 921.2h0M300.6 944.1h0M508.7 904.6h0M682.5 872.9h0M724.8 827.5h0M253.3 936.9h0M394.5 977.3h0M604.0 896.1h0M407.1 941.1h0M1647.2 712.5h0M251.3 871.3h0M1636.4 566.6h0M610.8 894.4h0M669.1 859.5h0M1180.3 803.9h0M331.9 922.2h0M1446.6 592.5h0M393.9 938.2h0M367.0 928.8h0M343.8 918.8h0M427.6 925.0h0M1566.9 640.5h0M1801.0 473.3h0M1168.9 804.7h0M1534.7 696.5h0M412.7 941.6h0M1113.5 686.0h0M283.1 929.3h0M338.0 932.4h0M375.5 932.3h0M609.4 874.5h0M351.4 921.9h0M1203.4 787.1h0M556.9 879.2h0M1657.7 642.5h0M313.2 925.0h0M736.9 877.9h0M266.6 922.3h0M937.4 650.9h0M908.4 705.8h0M840.6 858.7h0M801.1 837.5h0M214.3 943.1h0M1037.9 716.7h0M796.3 854.5h0M516.6 912.7h0M938.1 683.1h0M1619.0 800.3h0M1198.3 757.5h0M225.1 960.4h0M226.6 905.4h0M450.9 944.3h0M723.5 907.4h0M568.7 883.4h0M798.5 843.7h0M860.4 822.5h0M907.3 765.4h0M1689.0 569.4h0M770.3 879.6h0M1277.1 666.4h0M403.6 963.8h0M853.6 836.9h0M729.4 883.1h0M919.2 727.2h0M228.5 936.2h0M1554.1 708.0h0M885.3 850.0h0M803.5 851.4h0M1430.6 785.1h0M1159.9 704.6h0M873.6 864.9h0M1407.5 630.2h0M1295.5 560.2h0M387.8 910.9h0M572.4 935.0h0M394.4 943.4h0M657.7 891.3h0M1306.5 657.8h0M1167.6 781.8h0M453.8 915.2h0M224.3 923.4h0M607.2 922.2h0M969.0 639.4h0M747.6 864.5h0M1372.0 631.3h0M1056.0 651.1h0M1213.4 743.8h0M1117.8 731.4h0M377.5 917.7h0M378.9 947.7h0M954.4 686.3h0M866.1 873.4h0M489.4 926.3h0M1680.5 519.5h0M746.7 859.7h0M397.2 907.2h0M330.1 911.4h0M1576.2 577.4h0M1816.5 392.3h0M1741.8 557.1h0M1610.7 733.5h0M973.4 742.7h0M1742.6 557.9h0M913.1 750.8h0M1562.9 751.7h0M328.8 966.2h0M1185.8 709.3h0M1413.6 653.3h0M1525.1 631.1h0M678.7 885.2h0M596.7 879.0h0M1150.8 709.9h0M646.5 913.0h0M1430.0 705.2h0M389.0 935.7h0M1397.7 713.7h0M964.9 606.0h0M420.9 916.7h0M1351.3 646.8h0M797.0 872.1h0M1615.5 604.5h0M1803.8 429.6h0M1396.0 804.3h0M1508.2 683.6h0M1035.9 769.1h0M288.3 959.1h0M1332.6 630.3h0M388.4 933.9h0M1753.6 380.1h0M1437.4 610.6h0M773.3 871.7h0M1133.9 838.5h0M618.9 863.6h0M398.5 933.4h0M1674.4 592.8h0M1193.8 763.2h0M892.5 771.1h0M890.1 795.8h0M362.8 916.6h0M1076.4 667.5h0M864.6 840.9h0M1769.6 511.7h0M1287.7 690.7h0M861.9 869.1h0M1120.8 623.8h0M602.0 865.4h0M638.3 913.0h0M767.2 896.0h0M1245.7 692.2h0M786.1 889.2h0M1057.4 695.6h0M494.0 943.1h0M617.3 904.0h0M354.3 930.8h0M979.5 715.1h0M821.2 856.0h0M612.1 905.2h0M1219.2 622.0h0M1733.5 473.9h0M1404.2 634.6h0M887.3 791.5h0M259.7 917.9h0M821.6 866.6h0M589.5 914.4h0M320.8 897.0h0M1258.5 717.9h0M1648.0 525.7h0M353.3 940.2h0M948.0 694.3h0M1749.3 522.3h0M988.8 606.2h0M1665.5 547.9h0M837.8 868.5h0M568.9 878.4h0M365.6 944.4h0M990.4 778.2h0M844.3 850.8h0M1143.9 814.8h0M853.0 840.9h0M1202.7 648.1h0M506.7 888.8h0M735.9 903.2h0M334.5 915.7h0M1569.8 737.1h0M1432.0 700.3h0M810.2 840.8h0M539.1 891.7h0M1096.5 628.4h0M1384.6 695.8h0M427.0 917.1h0M856.8 881.7h0M1772.0 427.1h0M316.1 928.8h0M712.8 846.1h0M1206.1 663.1h0M1282.2 687.7h0M405.7 938.4h0M1321.6 683.9h0M906.4 791.2h0M1634.7 517.0h0M564.6 915.8h0M399.1 943.0h0M203.4 933.2h0M971.8 722.1h0M374.3 928.7h0M402.2 908.2h0M946.5 617.9h0M942.8 613.9h0M1518.5 546.7h0M436.0 941.7h0M1604.0 682.7h0M1346.6 585.9h0M1599.8 639.8h0M375.6 943.1h0M686.8 853.1h0M811.6 881.3h0M876.1 856.1h0M1766.3 442.5h0M295.9 920.1h0M384.6 937.1h0M1681.4 491.2h0M209.4 924.9h0M1458.9 728.7h0M1102.5 615.8h0M670.0 832.2h0M671.9 903.7h0M1685.8 590.8h0M1316.8 632.4h0M789.1 850.3h0M795.4 880.9h0M986.5 736.6h0M418.9 930.5h0M546.4 873.1h0M906.0 779.8h0M300.2 916.2h0M1776.4 150.8h0M1398.3 566.5h0M1478.4 729.6h0M356.5 935.4h0M1570.8 759.9h0M938.6 652.5h0M944.9 687.2h0M1763.4 584.8h0M393.1 937.4h0M247.0 947.9h0M1200.8 796.1h0M499.3 900.2h0M1423.4 691.5h0M765.6 861.7h0M859.6 816.5h0M1646.0 520.6h0M192.2 939.8h0M431.0 932.7h0M794.7 914.2h0M447.9 922.0h0M1817.2 385.7h0M1238.1 812.1h0M1232.1 669.8h0M1243.4 657.3h0M1254.4 643.3h0M408.5 918.0h0M1352.8 669.1h0M1158.4 636.8h0M992.1 667.1h0M1810.3 515.7h0M231.4 937.5h0M668.4 884.6h0M691.1 880.7h0M1148.8 810.4h0M737.9 903.7h0M973.1 633.6h0M649.0 885.3h0M1163.1 659.8h0M778.7 858.4h0M261.7 919.5h0M389.5 918.5h0M1495.1 708.2h0M1760.6 529.8h0M641.0 861.6h0M998.8 674.5h0M961.4 726.1h0M1314.7 733.0h0M1268.0 666.5h0M1112.1 682.4h0M816.7 828.6h0M1245.2 726.6h0M246.3 977.3h0M340.5 939.8h0M894.5 796.7h0M577.9 875.8h0M297.6 896.5h0M891.1 796.2h0M461.9 936.9h0M1802.4 517.5h0M1469.5 623.0h0M245.6 920.3h0M1669.6 562.8h0M294.7 941.8h0M765.9 881.8h0M1039.9 705.1h0M1209.2 650.3h0M912.8 742.7h0M876.6 846.5h0M912.5 774.1h0M204.8 921.7h0M753.4 855.6h0M190.1 923.5h0M401.5 910.9h0M532.3 864.7h0M812.1 846.3h0M1327.6 595.2h0M1545.9 671.4h0M888.0 800.0h0M571.8 886.6h0M312.5 908.5h0M1516.1 628.5h0M1360.0 692.4h0M1608.9 696.1h0M250.0 939.5h0M1013.6 679.2h0M204.7 927.3h0M894.8 783.2h0M382.8 952.5h0M674.8 897.9h0M1779.7 556.2h0M1115.1 711.5h0M404.3 845.3h0M945.5 621.6h0M403.3 943.0h0M270.7 913.5h0M1106.9 718.1h0M280.0 936.0h0M956.8 691.0h0M1746.1 219.6h0M696.7 866.2h0M1786.1 551.0h0M1234.6 705.1h0M927.7 682.6h0M920.9 726.6h0M306.2 926.6h0M579.2 872.8h0M750.6 854.3h0M1727.5 515.3h0M977.7 617.5h0M917.5 766.9h0M805.3 883.1h0M742.6 855.9h0M1642.7 695.4h0M1488.8 687.9h0M565.5 925.8h0M1677.0 546.9h0M1364.6 574.2h0M984.6 609.7h0M1147.4 756.6h0M1017.4 633.0h0M499.7 885.6h0M526.4 899.9h0M1682.3 673.6h0M1395.7 627.8h0M1720.2 610.5h0M440.0 931.6h0M1216.2 668.0h0M800.0 886.7h0M1656.0 635.1h0M302.9 915.0h0M600.4 871.1h0M1724.9 441.8h0M566.0 900.6h0M401.3 921.2h0M944.0 641.4h0M293.1 922.0h0M542.8 892.0h0M303.9 935.5h0M1146.8 706.3h0M676.8 865.6h0M236.1 932.5h0M720.3 883.0h0M605.1 894.1h0M573.9 890.6h0M267.1 938.3h0M574.5 893.5h0M289.9 924.5h0M440.7 904.0h0M258.8 917.6h0M1783.3 587.7h0M512.4 898.9h0M575.7 896.1h0M1461.2 707.0h0M1222.6 690.9h0M363.2 919.5h0M1188.9 753.9h0M1054.4 706.3h0M1086.7 801.5h0M911.8 734.7h0M1786.8 412.8h0M651.1 881.7h0M203.8 920.3h0M500.4 882.1h0M1601.8 636.9h0M371.4 962.1h0M502.1 915.7h0M970.7 663.9h0M355.8 908.6h0M1611.3 633.2h0M745.3 882.4h0M743.6 862.2h0M218.6 949.8h0M1594.5 617.0h0M318.4 927.3h0M971.5 681.7h0M664.0 920.3h0M1708.5 551.9h0M652.0 867.6h0M208.7 933.6h0M1477.5 689.3h0M1215.6 753.7h0M652.4 870.6h0M1649.6 685.9h0M1738.5 531.5h0M346.6 908.2h0M1691.1 665.2h0M895.6 809.3h0M360.6 943.9h0M754.8 855.0h0M421.1 951.2h0M838.5 851.5h0M281.2 932.7h0M1323.7 633.8h0M704.9 859.2h0M1309.3 704.7h0M1290.1 616.0h0M1712.0 575.8h0M426.1 917.8h0M1325.8 623.6h0M287.8 937.2h0M1019.7 606.6h0M379.8 913.6h0M411.1 941.5h0M868.8 850.4h0M780.2 845.8h0M1813.1 431.5h0M505.3 906.3h0M1710.2 521.5h0M1262.0 515.4h0M237.3 909.6h0M857.3 812.8h0M1741.1 516.5h0M832.5 847.3h0M398.0 924.0h0M1578.6 665.8h0M1412.8 691.8h0M936.4 681.9h0M808.2 828.2h0M684.5 857.9h0M1446.0 614.6h0M820.4 838.5h0M389.8 914.4h0M1700.3 479.6h0M695.6 893.4h0M199.4 942.5h0M771.5 888.8h0M822.0 870.3h0M1452.3 677.3h0M1042.0 779.4h0M1279.0 589.8h0M443.0 941.2h0M710.9 873.5h0M213.2 927.5h0M781.7 894.0h0M1177.7 766.1h0M507.0 928.0h0M1559.5 672.6h0M593.2 921.0h0M1154.5 681.1h0M1790.2 539.8h0M949.5 660.1h0M450.7 905.1h0M366.7 925.3h0M321.6 912.1h0M1364.1 658.5h0M1691.7 546.1h0M817.9 913.2h0M443.7 932.5h0M1315.4 684.9h0M1123.8 773.5h0M1105.6 848.3h0M1745.8 444.5h0M1490.5 662.4h0M386.7 954.4h0M497.8 902.8h0M1089.6 761.2h0M1771.4 460.1h0M1362.0 694.1h0M810.9 874.9h0M818.3 816.2h0M1106.2 769.9h0M491.6 925.1h0M637.2 894.7h0M735.0 892.1h0M663.7 876.5h0M475.8 914.8h0M1740.8 332.1h0M395.2 925.2h0M970.2 659.2h0M719.4 848.1h0M1009.6 762.3h0M468.0 934.9h0M1003.6 724.2h0M238.3 912.7h0M882.7 831.7h0M1122.4 751.0h0M857.8 831.8h0M967.4 691.7h0M1368.0 541.1h0M1697.4 516.9h0M953.5 580.7h0M1195.0 727.2h0M828.6 850.2h0M308.1 941.6h0M1455.7 644.2h0M216.7 902.2h0M414.7 928.4h0M964.3 712.5h0M473.3 911.0h0M364.5 936.8h0M1183.8 745.4h0M219.8 929.4h0M1415.7 689.9h0M210.4 917.5h0M861.2 847.8h0M464.2 943.6h0M740.3 863.1h0M1369.2 681.2h0M556.6 898.4h0M361.4 917.0h0M1310.6 649.5h0M1132.5 623.6h0M806.9 865.5h0M702.2 847.0h0M313.4 919.1h0M629.2 935.2h0M471.6 946.6h0M1157.7 685.4h0M1695.9 580.2h0M1280.3 720.0h0M406.4 907.4h0M672.9 875.1h0M1374.0 778.0h0M976.6 652.6h0M515.7 934.7h0M914.3 759.3h0M532.7 886.0h0M708.6 853.5h0M1204.4 733.0h0M1164.9 721.6h0M773.6 881.9h0M836.3 755.4h0M456.0 949.3h0M335.7 906.8h0M1372.5 773.4h0M585.8 892.8h0M250.7 904.3h0M430.3 933.2h0M459.9 931.6h0M1523.6 793.1h0M576.6 873.8h0M412.5 926.5h0M308.5 931.4h0M1505.0 677.4h0M1791.0 415.3h0M799.3 888.1h0M1605.4 666.7h0M1654.3 705.9h0M817.0 821.3h0M374.9 909.2h0M782.3 824.4h0M861.3 858.3h0M751.1 851.8h0M317.9 939.8h0M1281.8 689.8h0M1799.6 439.9h0M1650.2 609.7h0M194.0 948.0h0M1544.5 750.9h0M526.6 897.0h0M342.5 946.3h0M258.1 934.2h0M1081.6 683.1h0M1378.6 790.1h0M1224.7 777.2h0M409.8 937.4h0M319.6 909.2h0M397.7 917.2h0M1631.7 731.2h0M910.1 700.5h0M418.0 932.4h0M262.7 915.3h0M322.7 921.0h0M1098.0 674.0h0M858.5 824.3h0M202.8 927.4h0M1428.5 723.2h0M1736.0 571.7h0M1408.1 672.0h0M891.3 747.6h0M1548.4 725.0h0M546.0 898.6h0M586.4 872.9h0M630.9 883.2h0M301.0 907.2h0M1750.7 396.2h0M335.8 943.3h0M272.4 917.6h0M1449.4 740.1h0M1645.0 674.0h0M246.0 911.3h0M376.4 898.9h0M654.8 898.4h0M1310.1 691.8h0M1337.2 712.5h0M274.2 918.8h0M1060.1 684.1h0M929.3 720.0h0M672.6 872.5h0M1759.3 471.8h0M675.2 898.3h0M483.5 901.0h0M998.1 715.8h0M1718.0 535.9h0M622.9 883.4h0M1397.0 681.2h0M703.0 873.0h0M1464.6 633.2h0M194.9 946.6h0M757.6 839.3h0M1643.3 544.1h0M877.7 836.8h0M776.6 854.7h0M533.4 875.9h0M1493.5 654.1h0M324.1 911.9h0M753.7 860.3h0M594.8 873.4h0M852.6 861.6h0M434.7 928.2h0M1459.6 643.4h0M186.8 933.7h0M590.9 877.4h0M855.1 833.9h0M656.0 875.1h0M594.4 887.5h0M356.2 952.8h0M1229.7 675.6h0M1231.6 653.2h0M1417.7 717.3h0M1517.0 621.9h0M1740.1 450.4h0M1721.6 546.5h0M1067.1 726.8h0M253.7 939.4h0M317.6 917.2h0M1776.3 497.5h0M896.5 784.6h0M584.7 877.1h0M537.9 899.0h0M321.5 944.6h0M601.2 906.9h0M215.0 947.3h0M1289.0 698.1h0M947.5 632.9h0M975.7 719.2h0M229.6 947.3h0M482.6 943.7h0M1621.6 730.3h0M452.0 907.7h0M1553.3 725.5h0M599.9 872.4h0M1713.1 598.3h0M888.8 822.0h0M538.6 910.0h0M1182.7 733.6h0M1271.2 638.5h0M1340.5 628.4h0M981.3 589.6h0M825.0 825.3h0M244.8 907.1h0M1065.7 726.4h0M1519.6 635.3h0M1602.8 732.0h0M412.0 936.8h0M946.5 690.7h0M374.0 930.2h0M1039.3 672.4h0M763.2 895.5h0M1325.1 651.2h0M373.5 914.1h0M1156.4 634.6h0M248.5 906.9h0M875.3 855.1h0M1328.3 588.8h0M582.6 891.5h0M1439.8 629.8h0M1483.8 743.6h0M846.7 834.2h0M226.9 929.0h0M656.2 881.7h0M1303.0 657.0h0M223.4 923.5h0M540.0 879.4h0M1012.1 760.0h0M1408.9 624.7h0M774.6 852.5h0M1360.6 628.8h0M1608.4 531.7h0M758.6 850.3h0M1320.8 693.2h0M1387.8 710.0h0M1795.5 522.7h0M376.8 944.3h0M785.6 849.4h0M200.3 926.6h0M518.8 893.4h0M339.5 931.2h0M1658.1 681.3h0M454.7 930.2h0M442.2 956.7h0M1633.8 709.7h0M918.8 740.1h0M272.8 937.0h0M1210.3 660.7h0M1593.8 754.7h0M846.0 831.7h0M1276.4 593.1h0M1024.2 754.3h0M474.6 949.2h0M978.5 730.1h0M939.9 671.0h0M404.8 942.0h0M1703.6 492.8h0M1719.6 538.2h0M806.1 829.8h0M1656.7 516.4h0M413.1 943.9h0M401.9 914.8h0M658.3 887.4h0M1457.2 711.1h0M1745.3 472.2h0M524.4 849.3h0M748.5 912.3h0M1761.2 572.9h0M567.2 909.3h0M387.0 937.4h0M613.8 911.2h0M1751.4 438.0h0M804.6 848.2h0M850.0 824.2h0M1715.8 515.2h0M1265.9 686.0h0M217.9 912.9h0M267.8 932.0h0M984.0 712.9h0M1730.5 451.9h0M1799.5 140.1h0M1662.4 557.7h0M1270.6 623.6h0M760.2 851.3h0M1115.8 664.8h0M210.2 937.2h0M1641.6 560.2h0M263.1 927.3h0M238.5 933.3h0M717.5 879.3h0M386.0 966.7h0M247.8 946.2h0M1714.9 432.7h0M349.4 906.8h0M311.6 925.4h0M464.9 899.8h0M1580.9 626.1h0M370.0 939.7h0M448.1 911.5h0M1737.5 466.2h0M1659.6 505.6h0M615.7 870.8h0M257.4 912.3h0M1629.3 615.4h0M230.3 931.2h0M1230.5 736.4h0M498.2 911.6h0M629.5 929.4h0M1755.7 387.7h0M200.5 920.0h0M1286.3 578.8h0M535.0 912.9h0M1257.5 704.3h0M339.7 902.3h0M193.3 932.7h0M1736.8 574.6h0M1250.6 654.5h0M208.0 936.9h0M1462.3 668.3h0M993.5 704.1h0M800.6 870.5h0M360.1 935.7h0M558.9 869.9h0M569.6 877.6h0M268.7 947.8h0M1500.1 607.9h0M662.5 904.4h0M802.7 852.0h0M388.0 937.3h0M762.6 891.9h0M1694.5 565.7h0M314.9 961.5h0M233.3 941.5h0M219.0 930.5h0M1359.4 570.2h0M1169.6 758.9h0M692.9 866.8h0M877.5 838.4h0M1716.0 518.7h0M1441.9 722.8h0M568.0 889.8h0M640.1 912.8h0M1400.2 689.2h0M963.4 659.3h0M1438.1 596.6h0M395.9 913.5h0M1573.1 647.7h0M1467.0 704.1h0M855.5 873.8h0M714.7 860.2h0M1733.1 579.8h0M635.3 897.4h0M1779.2 511.8h0M397.0 930.2h0M429.6 909.1h0M228.4 935.6h0M1436.0 787.1h0M280.5 917.5h0M440.3 935.6h0M438.8 917.0h0M1174.6 745.3h0M597.4 895.4h0M958.3 542.5h0M663.4 876.0h0M843.0 828.8h0M980.2 697.2h0M845.1 845.6h0M1425.4 680.1h0M375.0 956.2h0M414.6 934.2h0M242.9 947.3h0M1599.1 499.6h0M1201.4 659.1h0M1203.7 831.8h0M1075.8 719.3h0M1114.4 719.2h0M383.2 920.2h0M1112.7 734.2h0M761.7 848.6h0M768.2 889.4h0M1558.0 754.9h0M797.6 847.2h0M1404.8 638.0h0M244.4 911.6h0M1571.5 653.9h0M1129.6 640.8h0M548.1 870.2h0M1671.2 522.5h0M1278.4 600.1h0M1098.8 678.2h0M1743.2 724.4h0M822.6 869.3h0M768.8 872.1h0M1648.3 430.3h0M709.9 852.2h0M934.1 632.0h0M1299.0 730.3h0M530.1 880.5h0M931.4 637.7h0M1563.5 594.5h0M840.2 825.0h0M1532.5 701.2h0M268.3 919.9h0M1484.6 682.3h0M1236.8 696.3h0M1706.1 510.5h0M297.2 907.1h0M1485.6 657.6h0M809.0 889.8h0M411.2 934.1h0M899.6 766.3h0M468.7 916.9h0M571.4 914.5h0M553.2 885.4h0M306.9 941.9h0M1335.8 606.7h0M1723.8 606.0h0M1193.0 664.2h0M278.2 934.3h0M925.8 706.8h0M612.5 906.3h0M726.6 857.4h0M1635.4 563.4h0M1386.3 670.5h0M966.0 642.0h0M525.0 918.9h0M832.8 871.6h0M929.7 703.4h0M209.5 946.1h0M924.1 758.4h0M325.5 939.2h0M749.7 864.2h0M974.7 656.9h0M899.2 763.5h0M241.7 935.2h0M1010.2 677.9h0M1265.4 577.2h0M1772.7 470.6h0M921.2 728.4h0M1172.1 730.3h0M815.7 861.8h0M1747.3 455.4h0M1170.8 779.3h0M1006.2 782.2h0M566.8 910.6h0M1141.7 820.4h0M448.5 945.5h0M653.2 864.9h0M501.5 926.0h0M435.1 938.5h0M1769.1 439.7h0M592.2 899.0h0M953.9 716.9h0M632.7 930.2h0M660.1 868.9h0M286.6 911.3h0M664.5 893.9h0M836.0 852.0h0M1088.8 735.2h0M1361.2 712.3h0M949.5 638.0h0M654.4 888.4h0M1258.0 640.9h0M1045.6 708.1h0M337.6 914.1h0M451.4 935.1h0M598.3 913.2h0M478.3 905.5h0M310.6 908.5h0M1649.2 456.3h0M744.3 855.9h0M1475.1 728.1h0M1196.1 740.9h0M206.3 924.2h0M393.7 942.1h0M283.4 922.6h0M1001.7 630.7h0M728.3 875.5h0M1263.0 695.2h0M398.7 972.2h0M1577.8 656.2h0M1417.1 616.1h0M587.3 874.0h0M521.7 934.3h0M361.3 931.9h0M1722.7 539.0h0M1272.0 680.3h0M1670.0 583.6h0M602.6 911.2h0M1707.2 504.6h0M1391.7 699.1h0M661.4 915.2h0M1168.2 790.6h0M289.4 907.1h0M281.5 922.7h0M1191.1 711.9h0M393.2 956.8h0M184.6 920.0h0M1381.9 563.4h0M1480.5 553.3h0M1787.6 415.6h0M694.8 897.8h0M1016.4 656.5h0M395.7 936.1h0M333.9 938.0h0M285.2 917.0h0M1261.2 654.1h0M695.3 912.8h0M790.0 884.5h0M1414.1 562.5h0M445.8 929.2h0M610.0 848.9h0M1184.6 646.9h0M1780.5 597.6h0M865.5 772.7h0M580.4 887.2h0M481.7 947.1h0M1409.5 737.6h0M311.2 937.6h0M863.0 839.2h0M544.4 923.6h0M194.0 905.9h0M1233.2 655.3h0M1719.2 480.0h0M464.4 923.9h0M566.3 913.4h0M540.5 879.2h0M415.9 941.1h0M195.4 910.3h0M352.6 937.3h0M272.9 901.0h0M392.4 944.0h0M673.5 882.7h0M1783.9 557.2h0M1512.9 593.2h0M922.1 698.5h0M405.0 917.4h0M791.6 867.8h0M1431.3 741.4h0M829.2 846.0h0M1379.4 570.9h0M989.7 777.2h0M1188.4 713.2h0M596.2 880.8h0M1619.5 693.6h0M408.3 922.5h0M379.3 958.9h0M1698.0 547.5h0M491.2 934.2h0M814.1 862.2h0M607.6 882.6h0M446.3 937.7h0M193.0 934.1h0M841.3 836.6h0M1238.7 667.2h0M1091.8 639.6h0M230.7 927.2h0M1418.3 510.3h0M1218.5 763.9h0M823.7 824.5h0M1443.7 704.3h0M624.9 921.2h0M951.9 626.0h0M547.4 907.9h0M599.5 889.4h0M336.5 911.4h0M1697.0 730.4h0M1253.7 666.3h0M583.3 874.9h0M679.3 865.5h0M475.1 897.5h0M727.9 858.6h0M837.6 839.5h0M1593.0 662.8h0M385.5 957.2h0M628.7 915.3h0M498.6 908.3h0M331.4 944.6h0M1190.7 702.7h0M879.8 808.4h0M692.4 843.4h0M528.9 907.0h0M633.3 888.9h0M266.0 938.7h0M434.5 935.6h0M714.2 876.2h0M1148.1 628.9h0M1226.3 763.3h0M706.7 896.6h0M1403.4 586.0h0M631.7 876.3h0M1212.6 825.0h0M1762.8 469.1h0M536.1 879.8h0M1633.3 577.4h0M1720.9 594.4h0M441.8 919.4h0M869.3 862.4h0M524.0 946.6h0M991.5 652.4h0M1040.7 620.9h0M563.4 927.3h0M550.0 884.0h0M627.3 933.3h0M386.4 907.0h0M1406.7 636.9h0M1083.8 772.8h0M274.3 925.1h0M787.4 899.3h0M554.6 877.0h0M458.9 908.4h0M437.9 911.9h0M1131.6 757.7h0M1542.1 690.7h0M1542.9 641.5h0M1666.2 504.8h0M264.3 921.9h0M762.2 849.7h0M943.3 626.1h0M952.9 661.2h0M1073.5 715.3h0M442.4 925.1h0M1033.2 715.8h0M756.8 912.0h0M1729.2 598.9h0M1528.4 653.6h0M324.7 917.6h0M768.6 872.1h0M1789.7 374.8h0M215.8 934.1h0M1700.8 584.2h0M642.0 915.9h0M338.9 939.0h0M1759.8 420.5h0M1798.4 470.0h0M1597.1 634.4h0M659.1 891.4h0M1757.9 441.5h0M957.3 435.5h0M1433.0 712.5h0M345.4 957.6h0M962.6 682.0h0M1592.4 621.5h0M734.5 854.3h0M723.1 863.0h0M827.3 886.1h0M377.2 946.9h0M351.1 964.3h0M1704.8 461.0h0M424.5 922.5h0M504.8 934.0h0M489.9 920.0h0M1299.7 617.1h0M904.8 800.9h0M319.4 896.6h0M313.0 921.3h0M556.2 902.8h0M1004.9 716.5h0M1130.3 721.5h0M972.3 617.1h0M256.2 919.5h0M584.2 927.2h0M999.5 624.6h0M1393.6 732.5h0M286.1 906.0h0M587.0 932.8h0M1047.3 833.7h0M935.2 687.4h0M829.8 818.2h0M302.5 944.9h0M1655.6 629.1h0M327.5 929.5h0M1308.7 665.8h0M1637.9 558.4h0M1460.0 794.7h0M452.7 935.5h0M209.7 920.3h0M534.5 886.3h0M916.0 725.8h0M580.9 883.1h0M295.2 937.2h0M485.4 945.3h0M371.3 927.1h0M258.5 920.7h0M326.2 923.1h0M610.3 874.4h0M382.4 920.2h0M674.0 894.1h0M1302.4 623.3h0M901.3 793.6h0M1031.7 737.8h0M443.0 935.9h0M842.9 825.9h0M1591.5 573.4h0M320.1 939.5h0M1119.6 720.9h0M471.4 909.6h0M1232.7 702.8h0M874.2 836.8h0M1565.2 596.0h0M221.9 931.9h0M1580.2 664.0h0M703.5 893.8h0M1224.0 687.0h0M705.8 895.4h0M741.8 883.2h0M559.2 922.6h0M619.5 905.1h0M670.6 889.0h0M487.5 890.2h0M1092.6 681.3h0M738.5 862.2h0M748.1 867.8h0M503.0 937.3h0M595.7 910.0h0M902.6 754.7h0M740.9 842.6h0M1693.0 679.4h0M611.2 916.5h0M676.2 865.4h0M530.7 925.9h0M1153.7 734.5h0M372.9 913.9h0M890.0 809.2h0M1370.8 670.0h0M453.5 906.8h0M848.2 857.6h0M1800.3 403.8h0M783.4 881.3h0M1212.2 786.6h0M458.1 927.5h0M1292.9 601.5h0M1613.7 749.7h0M1385.8 724.1h0M1639.0 671.2h0M296.2 919.4h0M613.3 853.3h0M624.2 883.7h0M1650.8 640.2h0M1292.3 728.3h0M819.9 882.2h0M910.5 725.9h0M218.1 920.5h0M1562.1 677.0h0M849.6 824.1h0M1072.0 694.6h0M1535.7 654.5h0M1208.0 795.1h0M299.1 923.3h0M1251.1 785.6h0M1336.4 631.0h0M941.8 675.4h0M733.5 850.1h0M675.7 871.0h0M852.4 841.6h0M1033.9 685.1h0M513.8 932.9h0M1546.9 720.3h0M262.4 939.3h0M620.9 904.4h0M654.8 905.2h0M1482.4 665.2h0M481.0 941.4h0M391.2 940.4h0M1248.2 659.1h0M1333.2 596.7h0M1426.2 679.6h0M333.1 925.3h0M773.0 832.2h0M1664.1 623.1h0M398.3 988.3h0M831.8 838.9h0M549.4 920.9h0M1319.1 624.2h0M939.3 601.5h0M813.6 849.3h0M327.1 938.7h0M854.1 827.0h0M185.9 899.8h0M245.3 927.6h0M390.1 948.9h0M216.5 920.6h0M709.4 885.5h0M294.0 911.5h0M1128.8 704.1h0M856.6 847.8h0M282.3 921.1h0M339.0 918.7h0M1684.9 571.7h0M870.6 821.9h0M874.8 851.2h0M789.5 856.0h0M1255.6 642.5h0M228.0 930.2h0M304.2 929.5h0M706.1 877.4h0M1696.8 607.8h0M219.0 913.8h0M1654.9 594.5h0M295.6 932.3h0M515.4 893.3h0M898.3 771.4h0M1220.3 635.5h0M786.5 850.2h0M1583.9 646.4h0M456.4 952.0h0M273.5 922.8h0M257.7 915.4h0M1079.6 864.2h0M1622.9 630.7h0M612.9 911.4h0M625.8 929.0h0M886.5 805.8h0M1020.3 674.9h0M1717.3 414.7h0M294.4 915.6h0M754.1 849.0h0M519.1 927.3h0M1128.3 627.0h0" stroke="#1f77b4" stroke-width="6.4" stroke-linecap="round" fill="none"/>
<path d="M101.7 928.5H1902.5M101.7 821.5H1902.5M101.7 714.5H1902.5M101.7 607.5H1902.5M101.7 500.5H1902.5M101.7 392.5H1902.5M101.7 285.5H1902.5M101.7 178.5H1902.5M230.5 70.5V1036.5M417.5 70.5V1036.5M604.5 70.5V1036.5M792.5 70.5V1036.5M979.5 70.5V1036.5M1166.5 70.5V1036.5M1353.5 70.5V1036.5M1541.5 70.5V1036.5M1728.5 70.5V1036.5" stroke="#cccccc" stroke-width="1" stroke-dasharray="5.4 2.4" fill="none"/>
<rect x="1687" y="831" width="196" height="193" fill="#fff"/>
<rect x="101.7" y="70.5" width="1800.8" height="966.0" fill="none" stroke="#000" stroke-width="1.4"/>
<path d="M96.2 1035.8H101.7M96.2 928.6H101.7M96.2 821.5H101.7M96.2 714.3H101.7M96.2 607.2H101.7M96.2 500.0H101.7M96.2 392.8H101.7M96.2 285.7H101.7M96.2 178.5H101.7M96.2 71.4H101.7M230.5 1036.5V1042.5M417.7 1036.5V1042.5M605.0 1036.5V1042.5M792.2 1036.5V1042.5M979.5 1036.5V1042.5M1166.7 1036.5V1042.5M1353.9 1036.5V1042.5M1541.2 1036.5V1042.5M1728.4 1036.5V1042.5" stroke="#000" stroke-width="1.3" fill="none"/>
<text x="71.5" y="1040.3" textLength="18" lengthAdjust="spacingAndGlyphs" class="yt">$0</text>
<text x="21.0" y="933.1" textLength="68.5" lengthAdjust="spacingAndGlyphs" class="yt">$100,000</text>
<text x="21.0" y="826.0" textLength="68.5" lengthAdjust="spacingAndGlyphs" class="yt">$200,000</text>
<text x="21.0" y="718.8" textLength="68.5" lengthAdjust="spacingAndGlyphs" class="yt">$300,000</text>
<text x="21.0" y="611.7" textLength="68.5" lengthAdjust="spacingAndGlyphs" class="yt">$400,000</text>
<text x="21.0" y="504.5" textLength="68.5" lengthAdjust="spacingAndGlyphs" class="yt">$500,000</text>
<text x="21.0" y="397.3" textLength="68.5" lengthAdjust="spacingAndGlyphs" class="yt">$600,000</text>
<text x="21.0" y="290.2" textLength="68.5" lengthAdjust="spacingAndGlyphs" class="yt">$700,000</text>
<text x="21.0" y="183.0" textLength="68.5" lengthAdjust="spacingAndGlyphs" class="yt">$800,000</text>
<text x="21.0" y="75.9" textLength="68.5" lengthAdjust="spacingAndGlyphs" class="yt">$900,000</text>
<text x="230.5" y="1058.6" text-anchor="middle" class="tk">1992</text>
<text x="417.7" y="1058.6" text-anchor="middle" class="tk">1996</text>
<text x="605.0" y="1058.6" text-anchor="middle" class="tk">2000</text>
<text x="792.2" y="1058.6" text-anchor="middle" class="tk">2004</text>
<text x="979.5" y="1058.6" text-anchor="middle" class="tk">2008</text>
<text x="1166.7" y="1058.6" text-anchor="middle" class="tk">2012</text>
<text x="1353.9" y="1058.6" text-anchor="middle" class="tk">2016</text>
<text x="1541.2" y="1058.6" text-anchor="middle" class="tk">2020</text>
<text x="1728.4" y="1058.6" text-anchor="middle" class="tk">2024</text>
<text x="766" y="36.7" textLength="471" lengthAdjust="spacingAndGlyphs" class="title">Ogden – Detached Home Sales History</text>
<text x="1719" y="47.8" textLength="165" lengthAdjust="spacingAndGlyphs" class="note">Over 1.5 Million Excluded</text>
<text transform="translate(141.7 555) rotate(-90)" textLength="96.5" lengthAdjust="spacingAndGlyphs" class="axl">Sold Price</text>
<text x="234" y="1016.7" textLength="155.5" lengthAdjust="spacingAndGlyphs" class="axl">Date Home Sold</text>
<text x="893" y="1011.8" textLength="710" lengthAdjust="spacingAndGlyphs" class="foot">Jerry Charlton - Exp Realty - 403 831 0842 - Jerry@JerryCharlton.com - www.JerryCharlton.com</text>
<text x="1696" y="889" textLength="112" lengthAdjust="spacingAndGlyphs" class="lg1">Jerry</text>
<text x="1696" y="932.2" textLength="172" lengthAdjust="spacingAndGlyphs" class="lg2">Charlton</text>
<text x="1696" y="961.5" textLength="170" lengthAdjust="spacingAndGlyphs" class="lg3">Real Estate</text>
<text x="1694" y="996.1" textLength="179" lengthAdjust="spacingAndGlyphs" class="lg4">403 831 0842</text>
<path d="M1739 905L1763.4 889.4L1788 904.5" stroke="#a9c0d8" stroke-width="2.2" fill="none"/>
<path d="M1760 900h3v2.8h-3zM1764 900h3v2.8h-3zM1760 903.6h3v2.8h-3zM1764 903.6h3v2.8h-3z" fill="#8ea5c0"/>
</svg></body></html>
